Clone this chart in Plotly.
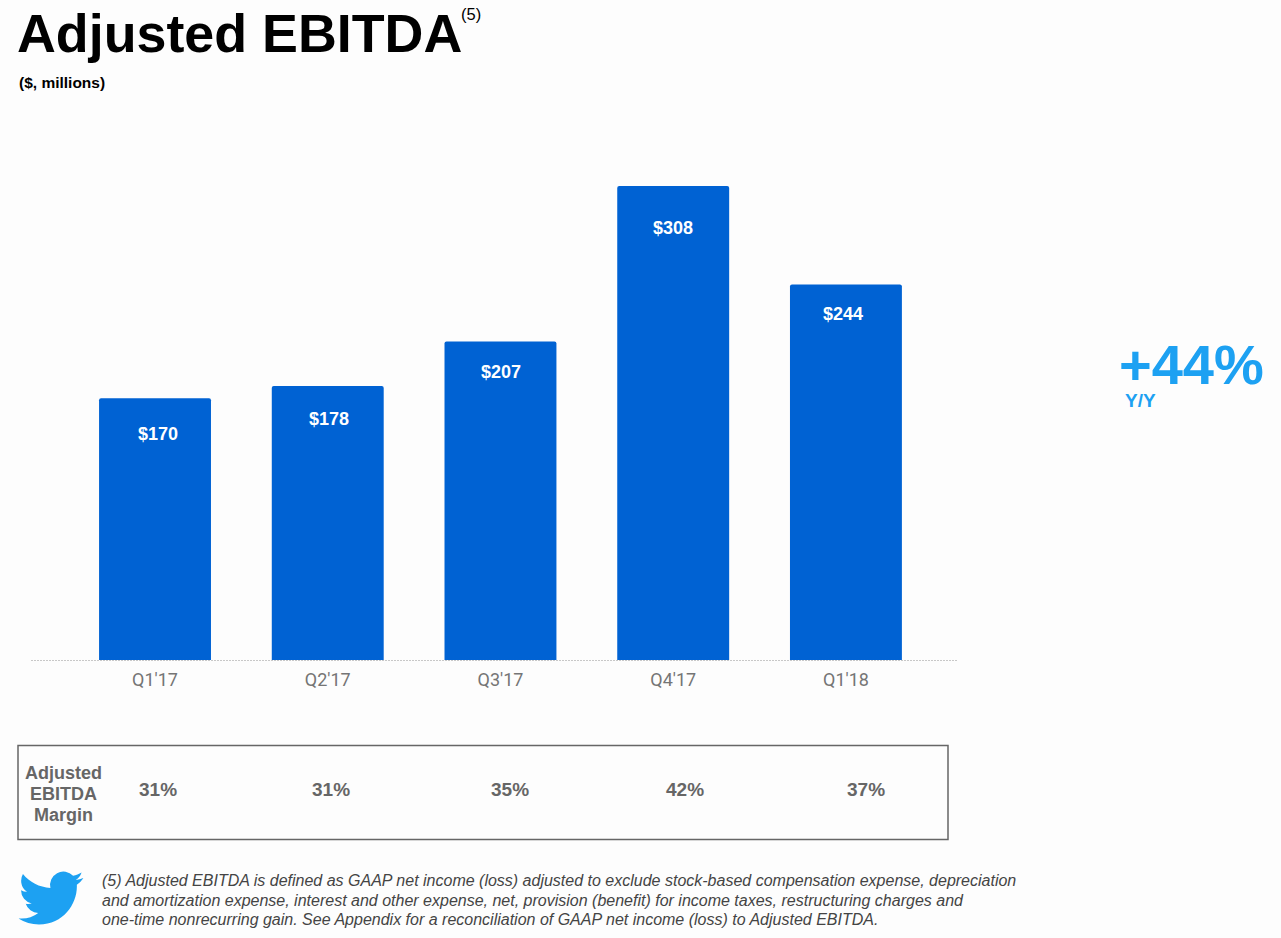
import base64
import plotly.graph_objects as go

W, H = 1281, 938
quarters = ["Q1'17", "Q2'17", "Q3'17", "Q4'17", "Q1'18"]
ebitda = [170, 178, 207, 308, 244]
margins = ["31%", "31%", "35%", "42%", "37%"]
footnote_lines = [
    "(5) Adjusted EBITDA is defined as GAAP net income (loss) adjusted to exclude stock-based compensation expense, depreciation",
    "and amortization expense, interest and other expense, net, provision (benefit) for income taxes, restructuring charges and",
    "one-time nonrecurring gain. See Appendix for a reconciliation of GAAP net income (loss) to Adjusted EBITDA.",
]
margin_title = ["Adjusted", "EBITDA", "Margin"]

label_px_x = [158, 329, 501, 673, 843]
label_px_y = [434, 419, 372, 228, 314]
margin_px_x = [158, 331, 510, 685, 866]

BLUE = "#0062D3"
SKY = "#1DA1F2"
GREY = "#666666"
BOLD = "Liberation Sans"


def px(x):
    return x / W


def py(y):
    return 1 - y / H


def text(t, x, y, size, color, font=BOLD, bold=True, italic=False, anchor="center"):
    s = t
    if bold:
        s = f"<b>{s}</b>"
    if italic:
        s = f"<i>{s}</i>"
    return dict(
        text=s, x=px(x), y=py(y), xref="paper", yref="paper", showarrow=False,
        xanchor=anchor, yanchor="middle", font=dict(family=font, size=size, color=color),
        align=anchor if anchor != "center" else "center",
    )


annotations = [
    text("Adjusted EBITDA", 15, 33, 53.8, "#000000", anchor="left"),
    text("(5)", 459, 14, 16.5, "#000000", bold=False, anchor="left"),
    text("($, millions)", 17, 82.5, 15.5, "#000000", anchor="left"),
    text("+44%", 1191, 364, 56, SKY),
    text("Y/Y", 1123, 401, 19, SKY, anchor="left"),
]
for v, x, y in zip(ebitda, label_px_x, label_px_y):
    annotations.append(text(f"${v}", x, y, 18, "#FFFFFF"))
for m, x in zip(margins, margin_px_x):
    annotations.append(text(m, x, 789.5, 19, GREY))
for t, y in zip(margin_title, [773, 794, 815]):
    annotations.append(text(t, 63, y, 18, GREY))
for t, y in zip(footnote_lines, [880, 900, 919]):
    annotations.append(text(t, 100, y, 16, "#444444", bold=False, italic=True, anchor="left"))

fig = go.Figure(
    go.Bar(
        x=list(range(len(quarters))), y=ebitda, marker=dict(color=BLUE, line_width=0, cornerradius=2),
        width=0.648, hoverinfo="skip",
    )
)

bird = (
    '<svg xmlns="http://www.w3.org/2000/svg" viewBox="0 0 24 24"><path fill="#1DA1F2" '
    'd="M23.953 4.57a10 10 0 01-2.825.775 4.958 4.958 0 002.163-2.723c-.951.555-2.005.959-3.127 1.184'
    'a4.92 4.92 0 00-8.384 4.482C7.69 8.095 4.067 6.13 1.64 3.162a4.822 4.822 0 00-.666 2.475'
    'c0 1.71.87 3.213 2.188 4.096a4.904 4.904 0 01-2.228-.616v.06a4.923 4.923 0 003.946 4.827'
    ' 4.996 4.996 0 01-2.212.085 4.936 4.936 0 004.604 3.417 9.867 9.867 0 01-6.102 2.105'
    'c-.39 0-.779-.023-1.17-.067a13.995 13.995 0 007.557 2.209c9.053 0 13.998-7.496 13.998-13.985'
    ' 0-.21 0-.42-.015-.63A9.935 9.935 0 0024 4.59z"/></svg>'
)
bird_uri = "data:image/svg+xml;base64," + base64.b64encode(bird.encode()).decode()

fig.update_layout(
    width=W, height=H, margin=dict(l=0, r=0, t=0, b=0),
    paper_bgcolor="#FDFDFD", plot_bgcolor="#FDFDFD", showlegend=False,
    xaxis=dict(
        domain=[px(31), px(957)], range=[-0.718, 4.643], tickmode="array",
        tickvals=list(range(len(quarters))), ticktext=quarters, showgrid=False, zeroline=False,
        showline=False, ticks="", ticklabelstandoff=7,
        tickfont=dict(family="Roboto", size=18, color="#757575"),
    ),
    yaxis=dict(
        domain=[py(660), 1], range=[0, 660 / 1.539], visible=False, showgrid=False, zeroline=False,
    ),
    annotations=annotations,
    shapes=[
        dict(type="line", xref="paper", yref="paper", x0=px(31), x1=px(957), y0=py(660.5), y1=py(660.5),
             line=dict(color="#C8C8C8", width=1, dash="2px,1px"), layer="below"),
        dict(type="rect", xref="paper", yref="paper", x0=px(18), x1=px(948), y0=py(745.5), y1=py(839.5),
             line=dict(color="#666666", width=1.5), fillcolor="rgba(0,0,0,0)"),
    ],
    images=[
        dict(source=bird_uri, xref="paper", yref="paper", x=px(18.5), y=py(865.5), sizex=px(65), sizey=65 / H,
             xanchor="left", yanchor="top", sizing="contain", layer="above"),
    ],
)

fig.write_html(
    "out.html",
    config={"displayModeBar": False},
    post_script="document.body.style.margin='0';document.body.style.background='#FDFDFD';",
)
